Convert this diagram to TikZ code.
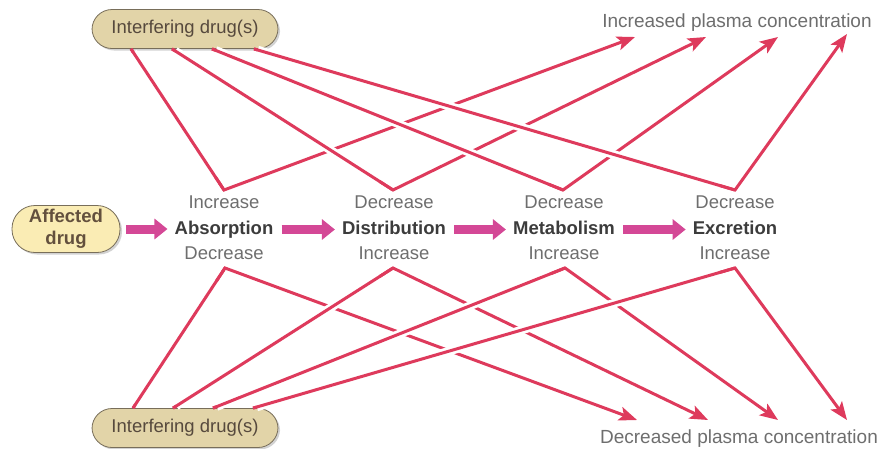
\documentclass[tikz,border=0pt]{standalone}
\usepackage{fontspec}
\setmainfont{Liberation Sans}
\usetikzlibrary{positioning,arrows.meta,shadows}

\definecolor{linkred}{RGB}{222,58,92}
\definecolor{flowpink}{RGB}{212,72,150}
\definecolor{pilltan}{RGB}{226,212,168}
\definecolor{pillcream}{RGB}{250,236,180}
\definecolor{pillline}{RGB}{120,110,90}
\definecolor{labelgray}{RGB}{110,110,110}
\definecolor{procgray}{RGB}{60,60,60}

\tikzset{
  pill/.style={draw=pillline, line width=0.8pt, rounded corners=20pt,
    text=procgray!80!brown, drop shadow={shadow xshift=2pt, shadow yshift=-2pt, fill=black!35}},
  proc/.style={font=\fontsize{18.5}{21}\selectfont\bfseries, text=procgray,
    text height=13pt, text depth=4pt, inner sep=2pt},
  change/.style={font=\fontsize{18.5}{21}\selectfont, text=labelgray,
    text height=13pt, text depth=4pt, inner sep=2pt},
  conn/.style={draw=linkred, line width=3pt, line join=miter},
  tipped/.style={-{Stealth[length=18pt,width=14pt,inset=4pt]}},
  gap/.style={preaction={draw=white, line width=8.5pt, shorten >=16pt, shorten <=4pt}},
  flow/.style={draw=flowpink, line width=9pt, shorten <=6pt, shorten >=5pt,
    -{Triangle[length=13pt,width=20pt]}}
}

\begin{document}
\begin{tikzpicture}[x=1pt, y=-1pt, every node/.style={font=\fontsize{18.5}{21}\selectfont}]
\useasboundingbox (0,0) rectangle (888,448);

\node[pill, fill=pilltan, minimum width=186pt, minimum height=39pt] (itop) at (185,29) {Interfering drug(s)};
\node[pill, fill=pilltan, minimum width=186pt, minimum height=39pt] (ibot) at (185,428) {Interfering drug(s)};
\node[pill, fill=pillcream, minimum width=108pt, minimum height=47pt, rounded corners=23pt,
  font=\fontsize{18.5}{22}\selectfont\bfseries, align=center, text=procgray!70!brown] (affected) at (66,229) {Affected\\drug};

\node[proc] (absorption) at (224,229.5) {Absorption};
\node[proc] (distribution) at (394,229.5) {Distribution};
\node[proc] (metabolism) at (564,229.5) {Metabolism};
\node[proc] (excretion) at (735,229.5) {Excretion};

\node[change, above=4pt of absorption] (absup) {Increase};
\node[change, below=4pt of absorption] (absdown) {Decrease};
\node[change, above=4pt of distribution] (disup) {Decrease};
\node[change, below=4pt of distribution] (disdown) {Increase};
\node[change, above=4pt of metabolism] (metup) {Decrease};
\node[change, below=4pt of metabolism] (metdown) {Increase};
\node[change, above=4pt of excretion] (excup) {Decrease};
\node[change, below=4pt of excretion] (excdown) {Increase};

\node[change, font=\fontsize{19}{21}\selectfont, anchor=base] (incplasma) at (737,27) {Increased plasma concentration};
\node[change, font=\fontsize{19}{21}\selectfont, anchor=base] (decplasma) at (739,443) {Decreased plasma concentration};

\draw[flow] (affected.east) -- (affected.east -| absorption.west);
\draw[flow] (absorption) -- (distribution);
\draw[flow] (distribution) -- (metabolism);
\draw[flow] (metabolism) -- (excretion);

\coordinate (absa) at (224,190);
\coordinate (disa) at (393,190);
\coordinate (meta) at (563,190);
\coordinate (exca) at (735,190);
\coordinate (absb) at (225,268);
\coordinate (disb) at (393,268);
\coordinate (metb) at (565,268);
\coordinate (excb) at (735,268);

\coordinate (inc1) at (635,37);
\coordinate (inc2) at (706,37);
\coordinate (inc3) at (778,37);
\coordinate (inc4) at (847,34);
\coordinate (dec1) at (637,420);
\coordinate (dec2) at (708,420);
\coordinate (dec3) at (778,420);
\coordinate (dec4) at (847,420);

\draw[conn, tipped] ([xshift=-54pt]itop.south) -- (absa) -- (inc1);
\draw[conn, tipped] ([xshift=-13pt]itop.south) -- (disa) -- (inc2);
\draw[conn, tipped] ([xshift=27pt]itop.south) -- (meta) -- (inc3);
\draw[conn, tipped] ([xshift=69pt]itop.south) -- (exca) -- (inc4);
\draw[conn, tipped] ([xshift=-52pt]ibot.north) -- (absb) -- (dec1);
\draw[conn, tipped] ([xshift=-12pt]ibot.north) -- (disb) -- (dec2);
\draw[conn, tipped] ([xshift=28pt]ibot.north) -- (metb) -- (dec3);
\draw[conn, tipped] ([xshift=68pt]ibot.north) -- (excb) -- (dec4);

\draw[conn, gap] ([xshift=-54pt]itop.south) -- (absa);
\draw[conn, gap] ([xshift=-13pt]itop.south) -- (disa);
\draw[conn, gap] ([xshift=27pt]itop.south) -- (meta);
\draw[conn, gap] ([xshift=69pt]itop.south) -- (exca);
\draw[conn, gap] ([xshift=-52pt]ibot.north) -- (absb);
\draw[conn, gap] ([xshift=-12pt]ibot.north) -- (disb);
\draw[conn, gap] ([xshift=28pt]ibot.north) -- (metb);
\draw[conn, gap] ([xshift=68pt]ibot.north) -- (excb);
\end{tikzpicture}
\end{document}
